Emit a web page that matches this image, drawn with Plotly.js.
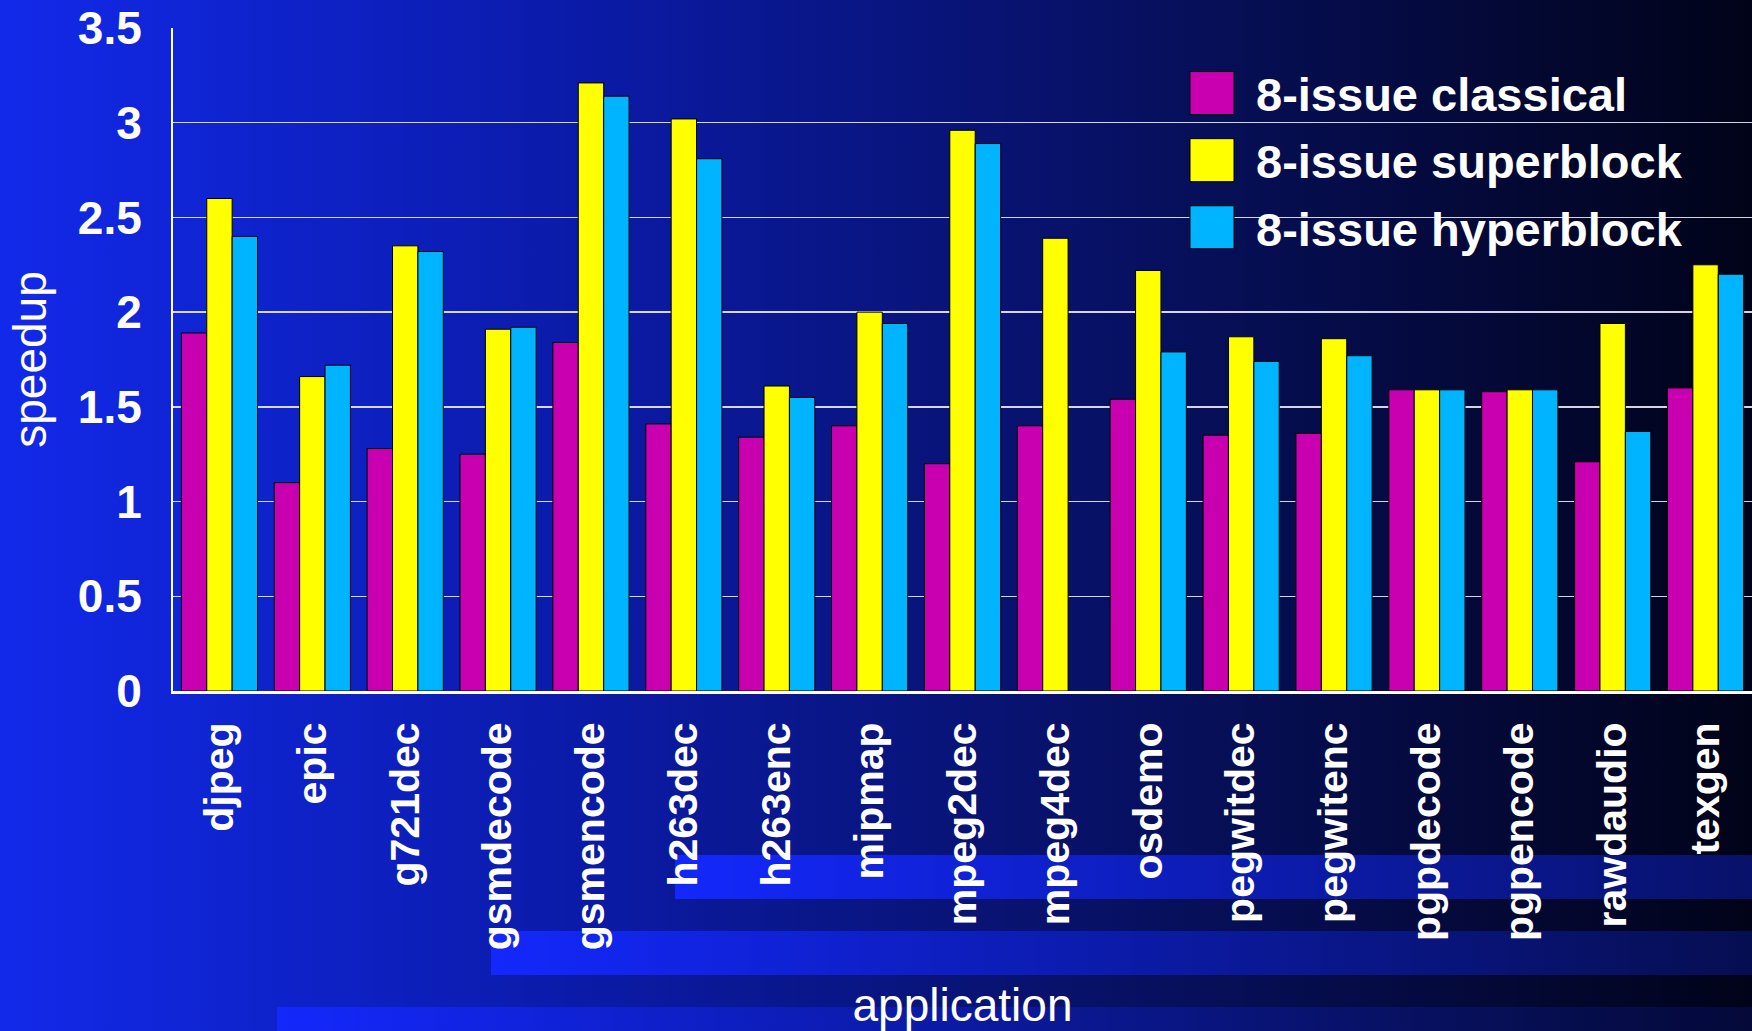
<!DOCTYPE html>
<html>
<head>
<meta charset="utf-8">
<script src="https://cdn.plot.ly/plotly-3.0.1.min.js"></script>
<style>
  html, body { margin: 0; padding: 0; }
  #stage {
    position: relative; width: 1752px; height: 1031px; overflow: hidden;
    background: linear-gradient(to right, #1229ea 0%, #0b1ba8 33%, #07105e 66%, #010318 100%);
  }
  .band {
    position: absolute; right: 0;
    background-image: linear-gradient(to right, #1428fc 0px, #0c1cb0 578px, #07105e 1156px, #010318 1752px);
    background-size: 1752px 100%; background-repeat: no-repeat;
  }
  #chart { position: absolute; left: 0; top: 0; width: 1752px; height: 1031px; }
</style>
</head>
<body>
<div id="stage">
  <div class="band" style="left:675px; top:855px; height:44px;"></div>
  <div class="band" style="left:491px; top:931px; height:44px;"></div>
  <div class="band" style="left:277px; top:1007px; height:24px;"></div>
  <div id="chart"></div>
</div>
<script>
// Benchmarks and measured speedups for each 8-issue configuration
const applications = ['djpeg', 'epic', 'g721dec', 'gsmdecode', 'gsmencode', 'h263dec', 'h263enc',
  'mipmap', 'mpeg2dec', 'mpeg4dec', 'osdemo', 'pegwitdec', 'pegwitenc', 'pgpdecode', 'pgpencode',
  'rawdaudio', 'texgen'];
const classical  = [1.89, 1.10, 1.28, 1.25, 1.84, 1.41, 1.34, 1.40, 1.20, 1.40, 1.54, 1.35, 1.36, 1.59, 1.58, 1.21, 1.60];
const superblock = [2.60, 1.66, 2.35, 1.91, 3.21, 3.02, 1.61, 2.00, 2.96, 2.39, 2.22, 1.87, 1.86, 1.59, 1.59, 1.94, 2.25];
const hyperblock = [2.40, 1.72, 2.32, 1.92, 3.14, 2.81, 1.55, 1.94, 2.89, null, 1.79, 1.74, 1.77, 1.59, 1.59, 1.37, 2.20];
const seriesNames = ['8-issue classical', '8-issue superblock', '8-issue hyperblock'];
const yTicks = [0, 0.5, 1, 1.5, 2, 2.5, 3, 3.5];

const FONT = 'Liberation Sans, Arial, Helvetica, sans-serif';
const W = 1752, H = 1031;
const M = { l: 173, r: 0, t: 28, b: 340 };
const plotW = W - M.l - M.r, plotH = H - M.t - M.b;
const pxX = px => (px - M.l) / plotW;
const pxY = py => (H - M.b - py) / plotH;

function barTrace(name, values, color) {
  return {
    type: 'bar', name: name, x: applications, y: values,
    marker: { color: color, line: { color: '#000000', width: 1 } },
    legendgroup: name, hoverinfo: 'skip'
  };
}

const data = [
  barTrace(seriesNames[0], classical, '#c800b0'),
  barTrace(seriesNames[1], superblock, '#ffff00'),
  barTrace(seriesNames[2], hyperblock, '#00b4ff')
];

const layout = {
  width: W, height: H,
  margin: M,
  paper_bgcolor: 'rgba(0,0,0,0)',
  plot_bgcolor: 'rgba(0,0,0,0)',
  barmode: 'group', bargap: 0.18, bargroupgap: 0,
  font: { family: FONT, color: '#ffffff' },
  xaxis: {
    type: 'category', range: [-0.5, applications.length - 0.5],
    tickangle: -90, ticks: '', ticklabelstandoff: 12,
    tickfont: { family: FONT, size: 41, weight: 'bold', color: '#ffffff' },
    showline: true, linecolor: '#ffffff', linewidth: 3, layer: 'below traces',
    showgrid: false, zeroline: false,
    title: { text: 'application', standoff: 44, font: { family: FONT, size: 46, color: '#ffffff' } }
  },
  yaxis: {
    range: [0, 3.5], tickvals: yTicks, ticks: '', ticklabelstandoff: 20,
    tickfont: { family: FONT, size: 46, weight: 'bold', color: '#ffffff' },
    showline: true, linecolor: '#ffffff', linewidth: 2, layer: 'below traces',
    showgrid: true, gridcolor: 'rgba(235,235,250,0.9)', gridwidth: 1.3, zeroline: false,
    title: { text: 'speedup', standoff: 17, font: { family: FONT, size: 46, color: '#ffffff' } }
  },
  showlegend: true,
  legend: {
    x: pxX(1168), y: pxY(56), xanchor: 'left', yanchor: 'top',
    bgcolor: 'rgba(0,0,0,0)', borderwidth: 0,
    font: { family: FONT, size: 47, weight: 'bold', color: '#ffffff' },
    itemwidth: 78, traceorder: 'grouped', tracegroupgap: 3
  }
};

Plotly.newPlot('chart', data, layout, { staticPlot: true, displayModeBar: false }).then(function (gd) {
  // enlarge the legend swatches to large square keys
  gd.querySelectorAll('.legend .legendpoints path').forEach(function (p) {
    p.setAttribute('d', 'M22,21.5H-22V-21.5H22Z');
  });
});
</script>
</body>
</html>
